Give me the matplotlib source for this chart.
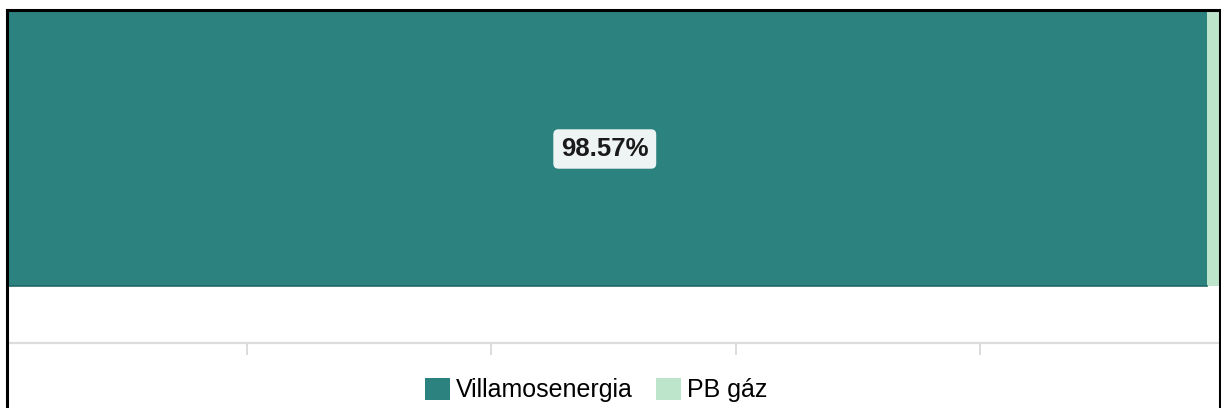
import matplotlib
matplotlib.use("Agg")
import matplotlib.pyplot as plt
from matplotlib.patches import Patch, Rectangle
from matplotlib.lines import Line2D

# adatok
categories = ["Villamosenergia", "PB gáz"]
shares = [98.57, 1.43]
colors = ["#2b827f", "#bde5cb"]
x_ticks = [0, 20, 40, 60, 80, 100]

W, H = 1221, 408
fig = plt.figure(figsize=(W / 100, H / 100), dpi=100)
plt.rcParams["font.family"] = ["Liberation Sans", "DejaVu Sans"]

# tengely: a képkivágás miatt a 0 és a 100 kicsit a kép széléig ér
x0, x1 = 3, 1224
y_top, y_axis = 12, 343
ax = fig.add_axes([x0 / W, (H - y_axis) / H, (x1 - x0) / W, (y_axis - y_top) / H])

left = 0
for name, val, col in zip(categories, shares, colors):
    ax.barh(0, val, left=left, height=1.0, color=col, edgecolor="none")
    left += val
# sötétebb alsó él a sáv alatt
ax.plot([0, shares[0]], [-0.5, -0.5], color="#1f6866", lw=1.2)

ax.text(shares[0] / 2, 0, f"{shares[0]:.2f}%", ha="center", va="center",
        fontsize=18.5, fontweight="bold", color="#1a1a1a",
        bbox=dict(boxstyle="round,pad=0.3,rounding_size=0.2", fc="#eef3f3", ec="none"))

ax.set_xlim(0, 100)
ax.set_ylim(-0.5 - 57 / 274, 0.5)
ax.set_xticks(x_ticks)
ax.set_xticklabels([])
ax.set_yticks([])
for s in ["top", "right", "left"]:
    ax.spines[s].set_visible(False)
ax.spines["bottom"].set_color("#dcdcdc")
ax.spines["bottom"].set_linewidth(1.6)
ax.tick_params(axis="x", length=8.5, width=1.4, color="#dcdcdc")

handles = [Patch(facecolor=c, edgecolor="none") for c in colors]
fig.legend(handles, categories, loc="center", bbox_to_anchor=(596 / W, 18 / H),
           ncol=2, frameon=False, fontsize=18, handlelength=1.0, handleheight=1.0,
           handletextpad=0.25, columnspacing=0.9, borderaxespad=0)

# a kereten kívüli rész fehér
fig.add_artist(Rectangle((0, 0), 7 / W, 1, transform=fig.transFigure,
                         facecolor="white", edgecolor="none", zorder=5))
fig.add_artist(Rectangle((0, 1 - 10 / H), 1, 10 / H, transform=fig.transFigure,
                         facecolor="white", edgecolor="none", zorder=5))

# fekete keret (képernyőkép széle)
def px_line(xs, ys):
    fig.add_artist(Line2D([x / W for x in xs], [1 - y / H for y in ys],
                          transform=fig.transFigure, color="black", lw=2.2, zorder=6))

px_line([7, 7], [10, H + 2])
px_line([7, 1220], [10, 10])
px_line([1220, 1220], [10, H + 2])

fig.savefig("out.png", dpi=100)
